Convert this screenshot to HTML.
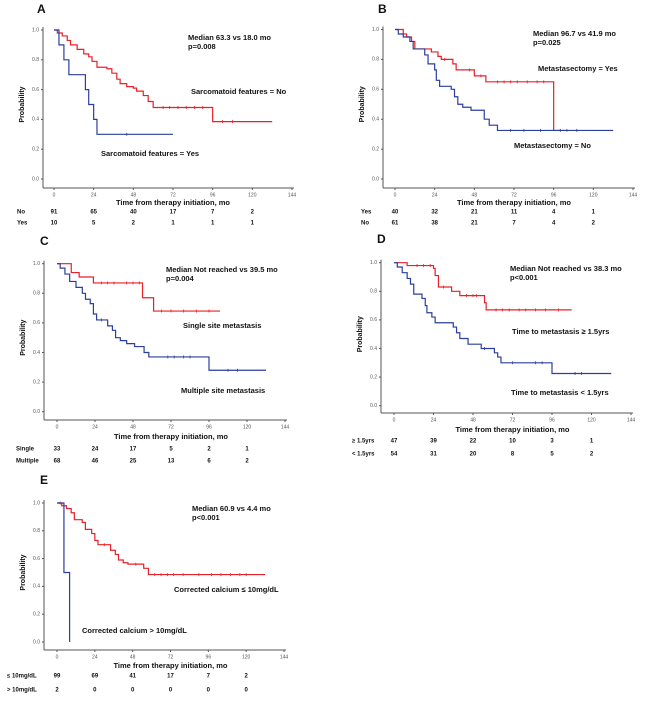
<!DOCTYPE html>
<html><head><meta charset="utf-8">
<style>
html,body{margin:0;padding:0;background:#fff;}
svg{display:block;font-family:"Liberation Sans",Arial,sans-serif;}
.b{font-weight:bold;fill:#111;}
</style></head>
<body>
<svg id="fig" width="650" height="704" viewBox="0 0 650 704"></svg>
<script>
// Panel A
const aRedSteps=[[0,1],[2,0.98],[5,0.96],[8,0.93],[10,0.9],[14,0.87],[18,0.84],[21,0.82],[23,0.79],[26,0.75],[32,0.74],[35,0.71],[38,0.67],[40,0.64],[44,0.62],[48,0.61],[50,0.59],[54,0.56],[57,0.52],[60,0.48],[96,0.385]];
const aRedEnd=132; const aRedCens=[66,70,75,80,85,90,102,108];
const aBlueSteps=[[0,1],[3,0.9],[6,0.8],[9,0.7],[19,0.6],[21,0.5],[24,0.4],[26,0.3]];
const aBlueEnd=72; const aBlueCens=[44];
const aRisk=[["No",[91,65,40,17,7,2]],["Yes",[10,5,2,1,1,1]]];
// Panel B
const bRedSteps=[[0,1],[5,0.97],[7,0.95],[10,0.92],[12,0.87],[22,0.85],[26,0.82],[28,0.8],[35,0.77],[37,0.73],[48,0.69],[55,0.65],[96,0.325]];
const bRedEnd=105; const bRedCens=[30,45,52,62,66,70,74,80,86,90,104];
const bBlueSteps=[[0,1],[2,0.97],[5,0.95],[9,0.92],[11,0.87],[18,0.83],[20,0.77],[24,0.73],[25,0.66],[27,0.62],[34,0.6],[36,0.55],[38,0.5],[41,0.48],[46,0.46],[54,0.4],[57,0.36],[62,0.325]];
const bBlueEnd=132; const bBlueCens=[70,78,88,100,110];
const bRisk=[["Yes",[40,32,21,11,4,1]],["No",[61,38,21,7,4,2]]];
// Panel C
const cRedSteps=[[0,1],[9,0.94],[14,0.91],[23,0.87],[54,0.77],[61,0.68]];
const cRedEnd=103; const cRedCens=[28,32,36,44,48,52,66,72,80,88,96];
const cBlueSteps=[[0,1],[2,0.97],[5,0.93],[8,0.88],[12,0.84],[16,0.8],[18,0.76],[21,0.73],[23,0.66],[25,0.62],[32,0.58],[35,0.55],[37,0.5],[40,0.48],[44,0.46],[49,0.44],[55,0.4],[58,0.37],[96,0.28]];
const cBlueEnd=132; const cBlueCens=[28,70,74,80,84,108,114];
const cRisk=[["Single",[33,24,17,5,2,1]],["Multiple",[68,46,25,13,6,2]]];
// Panel D
const dRedSteps=[[0,1],[8,0.98],[24,0.96],[25,0.91],[27,0.83],[35,0.8],[40,0.77],[55,0.72],[56,0.67]];
const dRedEnd=108; const dRedCens=[14,18,22,30,44,48,50,62,66,70,76,80,86,92,100];
const dBlueSteps=[[0,1],[2,0.97],[5,0.93],[8,0.89],[10,0.85],[12,0.78],[17,0.75],[19,0.7],[20,0.65],[23,0.62],[25,0.58],[36,0.55],[38,0.51],[40,0.47],[45,0.43],[53,0.4],[61,0.37],[63,0.34],[65,0.3],[96,0.225]];
const dBlueEnd=132; const dBlueCens=[55,72,86,90,110,114];
const dRisk=[["\u2265 1.5yrs",[47,39,22,10,3,1]],["< 1.5yrs",[54,31,20,8,5,2]]];
// Panel E
const eRedSteps=[[0,1],[3,0.98],[6,0.96],[9,0.93],[11,0.88],[16,0.86],[18,0.81],[22,0.78],[24,0.73],[26,0.7],[34,0.66],[37,0.63],[39,0.59],[42,0.57],[45,0.56],[55,0.53],[58,0.485]];
const eRedEnd=132; const eRedCens=[2,30,50,62,66,70,74,80,90,98,104,110,116,120];
const eBlueSteps=[[0,1],[4.4,0.5],[8,0]];
const eBlueEnd=8; const eBlueCens=[];
const eRisk=[["\u2264 10mg/dL",[99,69,41,17,7,2]],["> 10mg/dL",[2,0,0,0,0,0]]];
const xTicks=[0,24,48,72,96,120,144];
const yTicks=[0,0.2,0.4,0.6,0.8,1.0];

const NS="http://www.w3.org/2000/svg";
const svg=document.getElementById('fig');
function mk(tag,attrs,parent,text){const e=document.createElementNS(NS,tag);for(const k in attrs)e.setAttribute(k,attrs[k]);if(text!==undefined)e.textContent=text;(parent||svg).appendChild(e);return e;}

const panels=[
 {id:'a',letter:'A',lx:37,ly:10,ax:43,y1:30,y0:179,x0:54,x144:292,axY:188,tickY:195,titleY:203,rowY:[212,223],rowX:17,
  red:[aRedSteps,aRedEnd,aRedCens],blue:[aBlueSteps,aBlueEnd,aBlueCens],risk:aRisk,
  notes:[["Median 63.3 vs 18.0 mo",188,38],["p=0.008",188,47],["Sarcomatoid features = No",191,92],["Sarcomatoid features = Yes",101,154]]},
 {id:'b',letter:'B',lx:378,ly:10,ax:383,y1:29.5,y0:179,x0:395,x144:633,axY:188,tickY:195,titleY:203,rowY:[212,223],rowX:361,
  red:[bRedSteps,bRedEnd,bRedCens],blue:[bBlueSteps,bBlueEnd,bBlueCens],risk:bRisk,
  notes:[["Median 96.7 vs 41.9 mo",533,34],["p=0.025",533,43],["Metastasectomy = Yes",538,69],["Metastasectomy = No",514,146]]},
 {id:'c',letter:'C',lx:40,ly:242,ax:44,y1:263.7,y0:411.7,x0:57,x144:285,axY:420,tickY:427,titleY:437,rowY:[449,461],rowX:16,
  red:[cRedSteps,cRedEnd,cRedCens],blue:[cBlueSteps,cBlueEnd,cBlueCens],risk:cRisk,
  notes:[["Median  Not reached vs 39.5 mo",166,270],["p=0.004",166,279],["Single site metastasis",183,326],["Multiple  site metastasis",181,391]]},
 {id:'d',letter:'D',lx:377,ly:240,ax:381,y1:262.7,y0:405.7,x0:394,x144:631,axY:413,tickY:420,titleY:430,rowY:[441,454],rowX:352,
  red:[dRedSteps,dRedEnd,dRedCens],blue:[dBlueSteps,dBlueEnd,dBlueCens],risk:dRisk,
  notes:[["Median Not reached vs 38.3 mo",510,269],["p<0.001",510,278],["Time to metastasis \u2265 1.5yrs",512,332],["Time to metastasis < 1.5yrs",511,393]]},
 {id:'e',letter:'E',lx:40,ly:481,ax:44,y1:503,y0:642,x0:57,x144:284,axY:650,tickY:657,titleY:666,rowY:[676,690],rowX:7,
  red:[eRedSteps,eRedEnd,eRedCens],blue:[eBlueSteps,eBlueEnd,eBlueCens],risk:eRisk,
  notes:[["Median 60.9 vs 4.4 mo",192,509],["p<0.001",192,518],["Corrected calcium \u2264 10mg/dL",174,590],["Corrected calcium > 10mg/dL",82,631]]}
];

function survAt(steps,t){let s=1;for(const p of steps){if(p[0]<=t)s=p[1];}return s;}

panels.forEach(P=>{
 const g=mk('g',{});
 
 
 const X=t=>P.x0+(P.x144-P.x0)*t/144;
 const Y=v=>P.y0-(P.y0-P.y1)*v;
 const lt=mk('text',{x:P.lx,y:P.ly,'font-size':12,class:'b','dominant-baseline':'middle'},g,P.letter);
 
 
 // axes
 const ya=mk('line',{x1:P.ax,y1:P.y1-3,x2:P.ax,y2:P.axY,stroke:'#555','stroke-width':1},g);
 
 
 const xa=mk('line',{x1:P.ax,y1:P.axY,x2:P.x144+2,y2:P.axY,stroke:'#555','stroke-width':1},g);
 
 
 yTicks.forEach(v=>{
  mk('line',{x1:P.ax-2,y1:Y(v),x2:P.ax,y2:Y(v),stroke:'#555'},g);
  const t=mk('text',{x:P.ax-4,y:Y(v),'font-size':5,fill:'#555','text-anchor':'end','dominant-baseline':'middle'},g,v.toFixed(1));
  
  
 });
 xTicks.forEach(v=>{
  mk('line',{x1:X(v),y1:P.axY,x2:X(v),y2:P.axY+2,stroke:'#555'},g);
  const t=mk('text',{x:X(v),y:P.tickY,'font-size':5,fill:'#555','text-anchor':'middle','dominant-baseline':'middle'},g,String(v));
  
  
 });
 const yt=mk('text',{x:0,y:0,'font-size':7,class:'b','text-anchor':'middle',transform:`translate(${P.ax-19},${(P.y1+P.y0)/2}) rotate(-90)`},g,'Probability');
 
 
 const xt=mk('text',{x:(P.x0+P.x144)/2,y:P.titleY,'font-size':7.5,class:'b','text-anchor':'middle','dominant-baseline':'middle'},g,'Time from therapy initiation, mo');
 
 
 // curves
 [['red','#e8202a',P.red],['blue','#2b3f9e',P.blue]].forEach(([nm,col,[steps,end,cens]])=>{
  let d='M'+X(steps[0][0])+','+Y(steps[0][1]);
  for(let i=1;i<steps.length;i++){d+=' H'+X(steps[i][0])+' V'+Y(steps[i][1]);}
  d+=' H'+X(end);
  const p=mk('path',{d:d,fill:'none',stroke:col,'stroke-width':1.2},g);
  
  
  cens.forEach(t=>{
   const yv=Y(survAt(steps,t));
   const c=mk('line',{x1:X(t),y1:yv-1.5,x2:X(t),y2:yv+1.5,stroke:col,'stroke-width':0.8},g);
   
   
  });
 });
 // notes
 P.notes.forEach(([txt,x,y])=>{
  const t=mk('text',{x:x,y:y,'font-size':7.5,class:'b','dominant-baseline':'middle'},g,txt);
  
  
 });
 // risk table
 P.risk.forEach(([lab,vals],ri)=>{
  const y=P.rowY[ri];
  const l=mk('text',{x:P.rowX,y:y,'font-size':6,class:'b','dominant-baseline':'middle'},g,lab);
  
  
  vals.forEach((v,i)=>{
   const t=mk('text',{x:X(i*24),y:y,'font-size':6,class:'b','text-anchor':'middle','dominant-baseline':'middle'},g,String(v));
   
   
  });
 });
});
</script>
</body></html>
